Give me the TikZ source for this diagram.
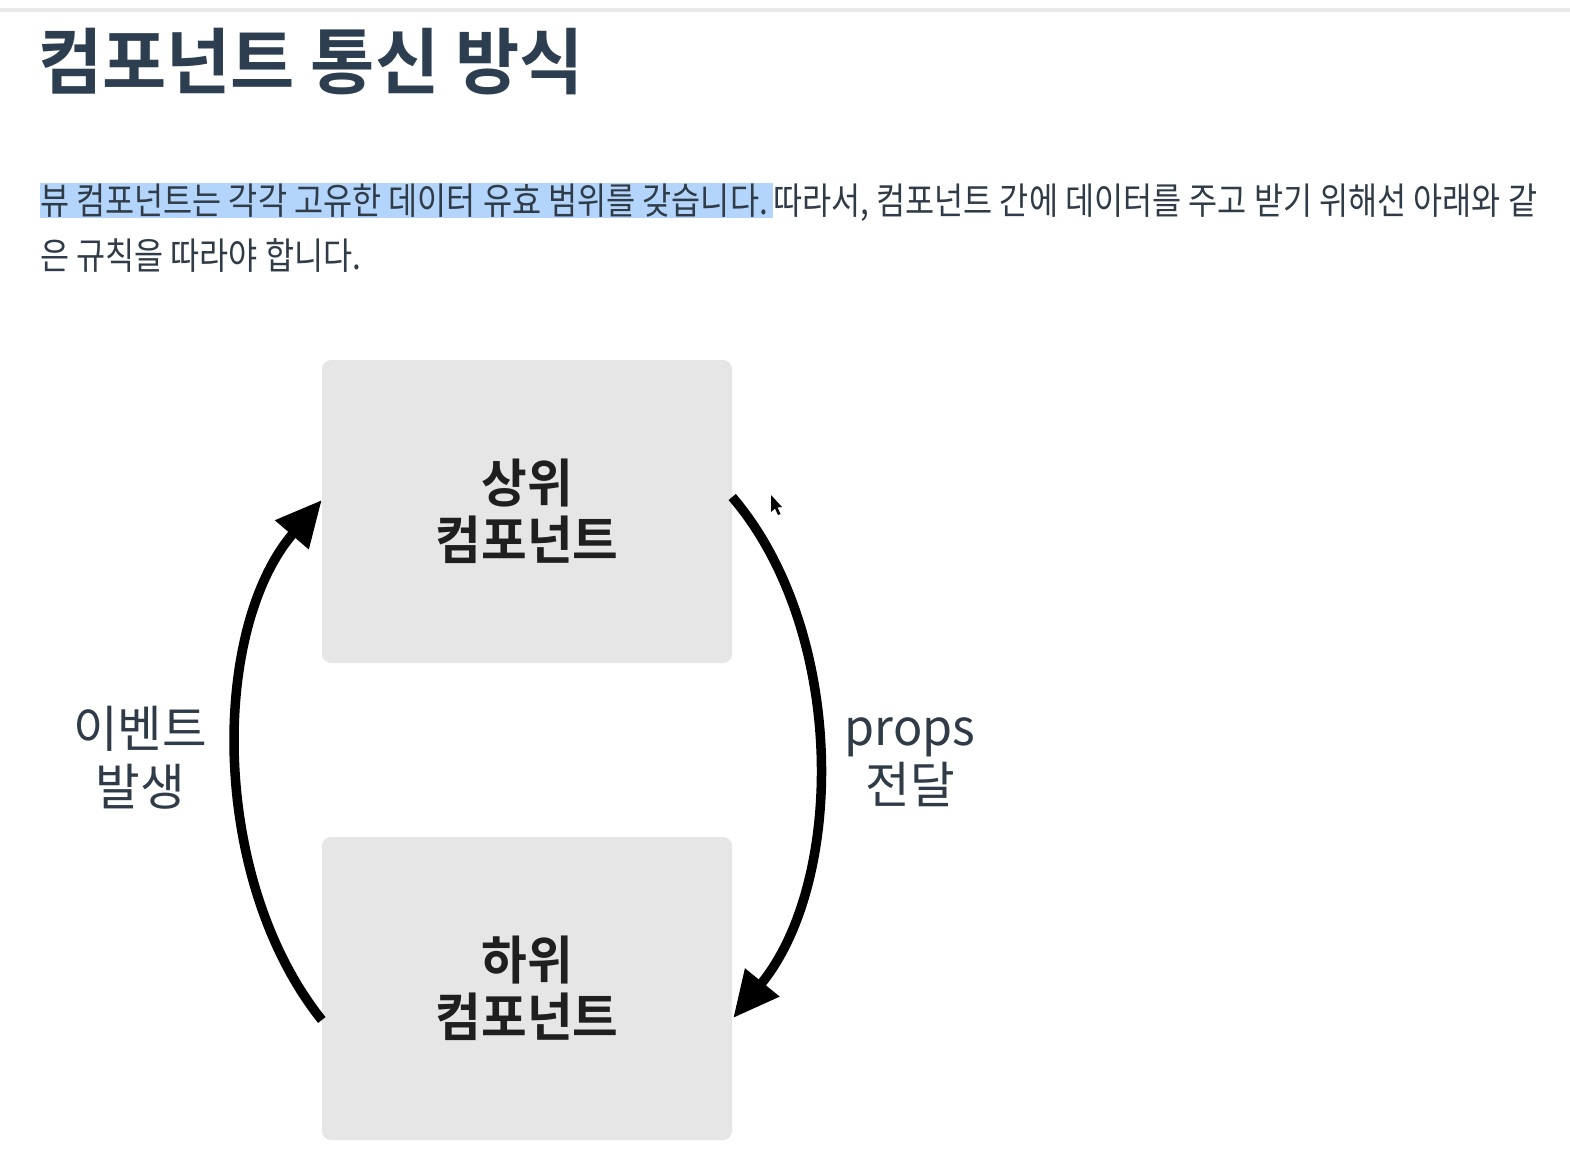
\documentclass[tikz,border=0pt]{standalone}
\usepackage{fontspec}
\usetikzlibrary{arrows.meta,calc}
\newfontfamily\krt{Noto Sans CJK KR Bold}[FakeStretch=0.97]
\newfontfamily\krb{Noto Sans CJK KR Bold}[FakeStretch=0.955]
\newfontfamily\krr{Noto Sans CJK KR}[FakeStretch=0.855]
\newfontfamily\krl{Noto Sans CJK KR}[FakeStretch=0.97]
\definecolor{titlec}{HTML}{2C3E50}
\definecolor{bodyc}{HTML}{2F3B47}
\definecolor{hilite}{HTML}{B4D5FB}
\definecolor{boxc}{HTML}{E6E6E6}
\definecolor{rulec}{HTML}{E9E9E9}
\tikzset{
  compbox/.style={fill=boxc, rounded corners=9pt, minimum width=410pt, minimum height=303pt, inner sep=0pt},
  boxtext/.style={font=\krb\fontsize{52}{57}\selectfont, text=black!88, align=center},
  sidelabel/.style={font=\krl\fontsize{50}{58}\selectfont, text=bodyc, align=center},
  flow/.style={line width=9.5pt, -{Triangle[length=46pt,width=42pt]}},
  bodytext/.style={font=\krr\fontsize{37}{40}\selectfont, text=bodyc, inner sep=0pt, anchor=base west}
}
\begin{document}
\begin{tikzpicture}[x=1pt,y=-1pt]
\useasboundingbox (0,0) rectangle (1570,1160);
\fill[white] (0,0) rectangle (1570,1160);
% top rule
\fill[rulec] (0,8) rectangle (1570,12);
% title
\node[font=\krt\fontsize{72}{80}\selectfont, text=titlec, inner sep=0pt, anchor=base west] (title) at (38,88) {컴포넌트 통신 방식};
% highlight
\fill[hilite] (40,183) rectangle (773,218);
\node[bodytext] (p1a) at (40,214) {뷰 컴포넌트는 각각 고유한 데이터 유효 범위를 갖습니다.};
\node[bodytext] (p1b) at (773,214) {따라서, 컴포넌트 간에 데이터를 주고 받기 위해선 아래와 같};
\node[bodytext] (p2) at (40,269) {은 규칙을 따라야 합니다.};
% boxes
\node[compbox] (top) at (527,511.5) {};
\node[compbox] (bot) at (527,988.5) {};
\node[boxtext] (toptext) at (527,511) {상위\\컴포넌트};
\node[boxtext] (bottext) at (527,988) {하위\\컴포넌트};
% labels
\node[sidelabel] (evt) at (140,758) {이벤트\\발생};
\node[sidelabel] (props) at (910,762) {props\\전달};
% connectors
\coordinate (lstart) at ($(bot.west)+(0,31.5)$);
\coordinate (lend) at ($(top.west)+(0,-11.5)$);
\coordinate (rstart) at ($(top.east)+(0,-14.5)$);
\coordinate (rend) at ($(bot.east)+(1,29.5)$);
\draw[flow] (lstart) .. controls (210,880) and (210,630) .. (lend);
\draw[flow] (rstart) .. controls (846,630) and (846,880) .. (rend);
% mouse cursor
\fill[black] (771,495) -- (771,512) -- (775,508.5) -- (778,515) -- (780.5,514) -- (777.5,507.5) -- (782,507) -- cycle;
\end{tikzpicture}
\end{document}
